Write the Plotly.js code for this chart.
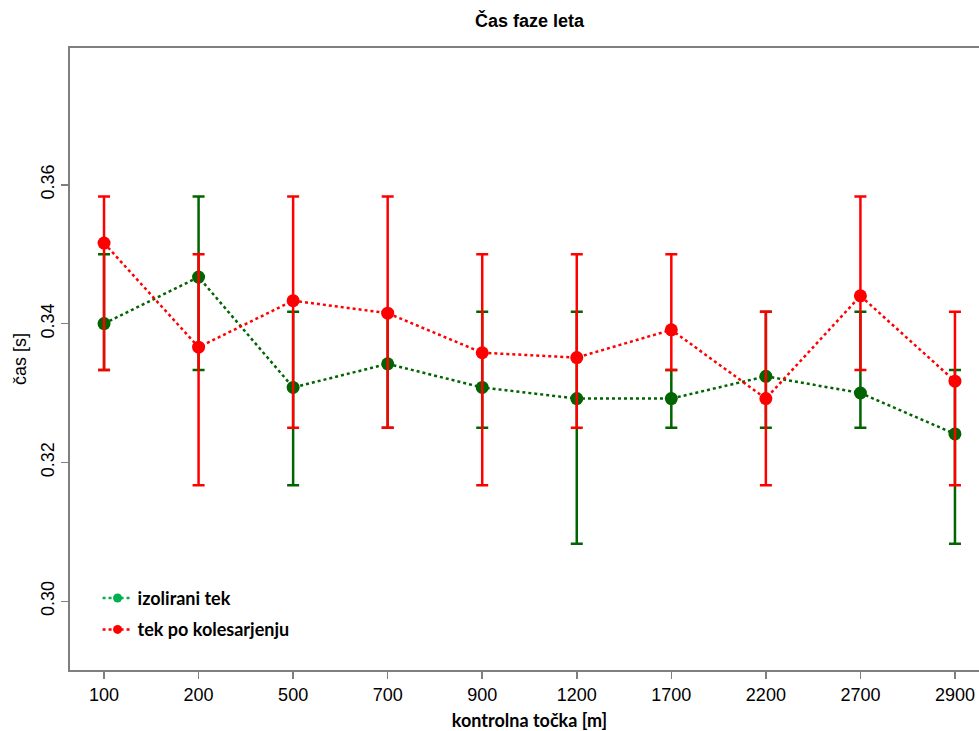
<!DOCTYPE html>
<html>
<head>
<meta charset="utf-8">
<script src="https://cdn.plot.ly/plotly-3.0.1.min.js"></script>
<style>
html,body{margin:0;padding:0;overflow:hidden;background:#fff;}
#chart{width:990px;height:731px;}
</style>
</head>
<body>
<div id="chart"></div>
<script>
var categories = ["100","200","500","700","900","1200","1700","2200","2700","2900"];

var izoliraniMean  = [0.3400,0.3467,0.3308,0.3342,0.3308,0.3292,0.3292,0.3324,0.3300,0.3241];
var izoliraniUpper = [0.3500,0.3583,0.3417,0.3417,0.3417,0.3417,0.3333,0.3417,0.3417,0.3333];
var izoliraniLower = [0.3333,0.3333,0.3167,0.3250,0.3250,0.3083,0.3250,0.3250,0.3250,0.3083];

var kolesMean  = [0.3516,0.3366,0.3433,0.3415,0.3358,0.3351,0.3391,0.3292,0.3440,0.3317];
var kolesUpper = [0.3583,0.3500,0.3583,0.3583,0.3500,0.3500,0.3500,0.3417,0.3583,0.3417];
var kolesLower = [0.3333,0.3167,0.3250,0.3250,0.3167,0.3250,0.3333,0.3167,0.3333,0.3167];

var seriesNames = ["izolirani tek","tek po kolesarjenju"];

function diff(a,b){return a.map(function(v,i){return +(v-b[i]).toFixed(5);});}

var green = "#006400", red = "#ff0000", legendGreen = "#00b050";
var arial = "'Liberation Sans', Arial, sans-serif";
var calibri = "Lato, Carlito, sans-serif";

var traces = [
  {
    x: categories, y: izoliraniMean, type: "scatter", mode: "lines+markers",
    showlegend: false,
    line: {color: green, dash: "dot", width: 2.5},
    marker: {color: green, size: 13},
    error_y: {type: "data", symmetric: false,
      array: diff(izoliraniUpper, izoliraniMean),
      arrayminus: diff(izoliraniMean, izoliraniLower),
      color: green, thickness: 2.5, width: 6}
  },
  {
    x: categories, y: kolesMean, type: "scatter", mode: "lines+markers",
    showlegend: false,
    line: {color: red, dash: "dot", width: 2.5},
    marker: {color: red, size: 13},
    error_y: {type: "data", symmetric: false,
      array: diff(kolesUpper, kolesMean),
      arrayminus: diff(kolesMean, kolesLower),
      color: red, thickness: 2.5, width: 6}
  },
  {
    x: [null], y: [null], type: "scatter", mode: "lines+markers", name: seriesNames[0],
    legendgroup: "a",
    line: {color: legendGreen, dash: "dot", width: 2.5},
    marker: {color: legendGreen, size: 9}
  },
  {
    x: [null], y: [null], type: "scatter", mode: "lines+markers", name: seriesNames[1],
    legendgroup: "b",
    line: {color: red, dash: "dot", width: 2.5},
    marker: {color: red, size: 9}
  }
];

var layout = {
  width: 990, height: 731,
  margin: {l: 70, r: 1, t: 48, b: 61},
  paper_bgcolor: "#ffffff", plot_bgcolor: "#ffffff",
  title: {text: "<b>Čas faze leta</b>", x: 0.5, xref: "paper", y: 0.972, yanchor: "middle",
    font: {family: arial, size: 18, color: "#000"}},
  xaxis: {
    type: "category", range: [-0.36, 9.36],
    showgrid: false, zeroline: false,
    showline: true, mirror: true, linecolor: "#7f7f7f", linewidth: 2,
    ticks: "outside", ticklen: 7, tickwidth: 1.5, tickcolor: "#7f7f7f",
    tickfont: {family: arial, size: 18, color: "#000"},
    title: {text: "<b>kontrolna točka [m]</b>", standoff: 12,
      font: {family: calibri, size: 18, color: "#000"}}
  },
  yaxis: {
    range: [0.2901, 0.3797],
    tickvals: [0.30, 0.32, 0.34, 0.36], ticktext: ["0.30","0.32","0.34","0.36"],
    tickangle: -90,
    showgrid: false, zeroline: false,
    showline: true, mirror: true, linecolor: "#7f7f7f", linewidth: 2,
    ticks: "outside", ticklen: 7, tickwidth: 1.5, tickcolor: "#7f7f7f",
    tickfont: {family: arial, size: 18, color: "#000"},
    title: {text: "čas [s]", standoff: 6,
      font: {family: arial, size: 18, color: "#000"}}
  },
  showlegend: true,
  legend: {x: 0.03, y: 0.145, xanchor: "left", yanchor: "top",
    bgcolor: "rgba(0,0,0,0)", borderwidth: 0, tracegroupgap: 5,
    itemwidth: 30,
    font: {family: calibri, size: 18, color: "#000", weight: "bold"}}
};

Plotly.newPlot("chart", traces, layout, {displayModeBar: false, staticPlot: true});
</script>
</body>
</html>
